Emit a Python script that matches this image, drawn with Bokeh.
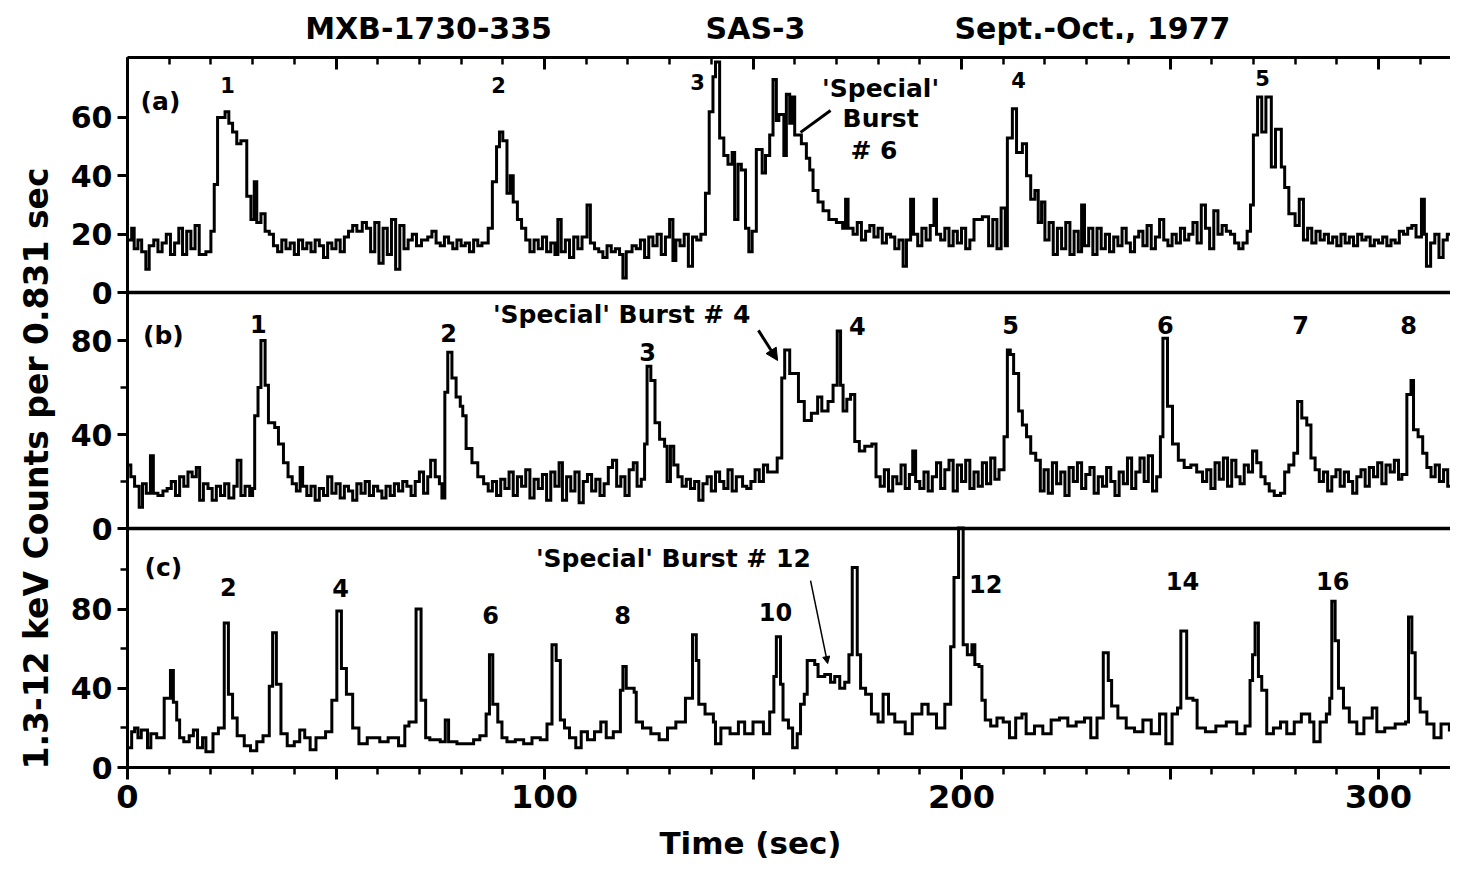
import math
from bokeh.plotting import figure
from bokeh.models import (Range1d, LinearAxis, FixedTicker, Span, Label, Arrow,
                          NormalHead, CustomJSTickFormatter)
from bokeh.core.properties import value
from bokeh.embed import file_html
from bokeh.resources import INLINE

# ---------------- data ----------------
# panel (a): step start times (s) and counts per 0.831 s
a_time = [0, 1, 1.6, 2.5, 3.4, 4.4, 5.2, 6.3, 7.3, 8.3,
          9.3, 10.3, 11.3, 12.3, 13.2, 14.2, 15.2, 16.2, 17.2, 18.8,
          20, 20.8, 21.6, 23.4, 24.3, 25.2, 26.2, 27.2, 28.6, 29.6,
          30.4, 31, 32, 33, 34, 35, 36, 37, 38, 39,
          40, 41, 42, 43, 44, 45, 46, 47, 48, 49,
          50, 51, 52, 53, 54, 55, 56.3, 57.3, 58.3, 59.3,
          60.3, 61.3, 62.3, 63.3, 64.3, 65.3, 66.3, 67.3, 68.3, 69.3,
          70.5, 72, 73, 74, 75, 76, 77, 78, 79, 80,
          81, 82, 83, 84, 85, 86.5, 87.5, 88.5, 89.2, 90,
          91, 91.8, 92.5, 93.5, 94.5, 95.5, 96.5, 97.5, 98.5, 99.5,
          100.5, 101.5, 102.5, 103.2, 104, 105, 106, 107, 108, 109,
          110.2, 111, 112, 113, 114, 115, 116, 117, 118, 118.8,
          119.6, 121, 122, 123, 124, 125, 126, 127, 128, 129,
          130, 130.8, 131.5, 132.5, 133.5, 134.5, 135.5, 136.5, 137.5, 138.6,
          139.5, 140.4, 141, 142, 143, 144, 145, 145.6, 146.4, 147.2,
          148.2, 149, 149.8, 150.8, 152.2, 153, 154, 154.8, 155.6, 156.2,
          157.4, 158, 158.8, 159.4, 160, 161.6, 162.8, 163.6, 164.4, 165.6,
          166.8, 168.2, 170, 171.5, 172.2, 172.8, 174, 175, 176, 177,
          178, 179, 180, 181, 182, 183, 184, 185, 186, 186.8,
          187.8, 188.5, 189.5, 190.5, 191.5, 192.5, 193.4, 194, 195, 196,
          197, 198, 199, 200, 201, 202, 203, 205, 206.5, 207.5,
          208.5, 209.5, 210.5, 211, 212.2, 213.2, 214.6, 215.6, 216.6, 217.6,
          218.4, 219.2, 220, 221, 222, 223, 224, 225, 226, 227,
          228, 228.8, 229.5, 230.5, 231.5, 232.5, 233.5, 234.5, 235.5, 236.5,
          237.5, 238.5, 239.5, 240.5, 241.5, 242.5, 243.5, 244.5, 245.5, 246.5,
          247.5, 248.5, 249.5, 250.5, 251.5, 252.5, 253.5, 254.5, 255.5, 256.5,
          257.5, 258.5, 259.5, 260.5, 261.5, 262.5, 263.5, 264.5, 265.5, 266.5,
          267.5, 268.5, 269.3, 270, 271, 272, 273, 274.3, 275.3, 276.7,
          277.5, 278.5, 280, 281, 282, 283, 284, 285, 286, 287,
          288, 289, 290, 291, 292, 293, 294, 295, 296, 297,
          298, 299, 300, 301, 302, 303, 304, 305, 306, 307,
          308, 309, 310.3, 311, 311.5, 312.5, 313.5, 314.5, 315.5, 316.5,
          317.5, 319]
a_counts = [18, 22, 15, 18, 14, 8, 16, 18, 14, 17,
            20, 13, 17, 22, 13, 21, 15, 23, 13, 14,
            21, 37, 60, 62, 58, 55, 51, 52, 33, 25,
            38, 24, 27, 21, 20, 16, 14, 18, 15, 17,
            13, 18, 15, 17, 14, 18, 16, 12, 17, 15,
            18, 14, 19, 21, 23, 21, 24, 22, 14, 24,
            10, 22, 13, 25, 8, 23, 15, 18, 20, 16,
            18, 19, 21, 17, 16, 19, 17, 15, 18, 16,
            17, 14, 18, 16, 17, 22, 38, 50, 55, 52,
            34, 40, 31, 25, 22, 18, 14, 18, 15, 19,
            14, 17, 13, 25, 14, 18, 12, 19, 15, 19,
            30, 17, 15, 14, 12, 16, 14, 15, 13, 5,
            14, 16, 15, 18, 12, 19, 16, 20, 13, 19,
            25, 11, 18, 16, 20, 9, 19, 18, 20, 34,
            62, 74, 79, 53, 47, 44, 48, 25, 44, 42,
            22, 14, 21, 49, 41, 47, 54, 73, 59, 61,
            47, 68, 58, 67, 54, 51, 46, 42, 35, 31,
            28, 25, 24, 22, 32, 22, 20, 24, 18, 21,
            23, 19, 22, 17, 20, 19, 15, 18, 9, 18,
            32, 20, 16, 22, 18, 23, 32, 20, 18, 22,
            16, 21, 17, 22, 15, 18, 25, 26, 16, 25,
            15, 29, 16, 53, 63, 48, 51, 40, 32, 35,
            24, 31, 18, 24, 13, 22, 15, 24, 13, 21,
            14, 30, 16, 22, 13, 22, 15, 20, 14, 19,
            16, 22, 17, 14, 19, 21, 16, 23, 15, 19,
            25, 18, 16, 20, 17, 22, 18, 20, 24, 17,
            30, 22, 15, 28, 20, 23, 21, 20, 17, 15,
            17, 21, 30, 54, 67, 55, 67, 43, 56, 43,
            36, 27, 23, 32, 18, 22, 17, 21, 18, 20,
            17, 19, 16, 20, 17, 19, 16, 20, 18, 19,
            16, 18, 17, 19, 16, 18, 17, 21, 20, 22,
            23, 19, 32, 20, 9, 17, 20, 12, 18, 20,
            22, 22]

# panel (b)
b_time = [0, 0.8, 1.7, 2.8, 3.6, 4.5, 5.5, 6.2, 7.3, 8.5,
          9.5, 10.5, 11.5, 12.5, 13.5, 14.5, 15.5, 16.5, 17.3, 18.2,
          19.3, 20.3, 21.3, 22.3, 23.3, 24.3, 25.5, 26.3, 27.2, 28.2,
          29.3, 30, 30.5, 31.3, 32, 33, 33.8, 35.3, 36.2, 37.4,
          38.5, 39.5, 40.5, 41.4, 42, 43, 44, 45, 46, 47,
          48, 49, 50, 51, 52, 53, 54, 55, 56, 57,
          58, 59, 60, 61, 62, 63, 64, 65, 66, 67,
          68, 69, 70, 71, 72, 72.7, 73.8, 74.8, 75.4, 76.1,
          76.8, 77.8, 78.8, 79.8, 80.4, 81.2, 82.6, 84, 85.4, 86.5,
          87.5, 88.5, 89.5, 90.5, 91.5, 92.5, 93.5, 94.5, 95.5, 96.5,
          97.5, 98.5, 99.5, 100.5, 101.5, 102.5, 103.5, 104.3, 105.3, 106.3,
          107.3, 108.3, 109.3, 110.3, 111.3, 112.3, 113.3, 114.3, 115.3, 116.3,
          117.3, 118.3, 119.3, 120.3, 121.3, 122.2, 123.2, 124, 124.6, 125.5,
          126.5, 127.6, 128.8, 129.4, 130.2, 131, 132, 133, 134, 135,
          136, 137, 138, 139, 140, 141, 142, 143, 144, 145,
          146, 147.5, 148.5, 149.5, 150.5, 151.5, 152.5, 153.5, 155.8, 156.9,
          157.6, 158.8, 160.9, 162.3, 164, 165.5, 166.5, 168, 169.2, 170.2,
          171, 171.6, 172.5, 173.4, 174.4, 175.5, 176.8, 178.5, 179.5, 180.5,
          181.5, 182.5, 183.5, 184.5, 185.5, 186.5, 187.5, 188.3, 189, 190,
          191, 192, 193, 194, 195, 196, 197, 198, 199, 200,
          201, 202, 203, 204, 205, 206, 207, 208, 209, 210.2,
          211, 211.7, 212.5, 213.7, 214.6, 215.6, 216.6, 217.8, 218.9, 219.8,
          220.8, 221.8, 222.8, 223.8, 224.8, 225.8, 226.8, 227.8, 228.8, 229.8,
          230.8, 231.8, 232.8, 233.8, 234.8, 235.8, 236.8, 237.8, 238.8, 239.8,
          240.8, 241.8, 242.8, 243.8, 244.8, 245.8, 246.8, 247.7, 248.3, 249.4,
          250.6, 252, 253.4, 255, 256.4, 257.8, 258.8, 259.8, 260.8, 261.8,
          262.8, 263.8, 264.8, 265.8, 266.8, 267.8, 268.8, 269.8, 270.8, 271.8,
          272.8, 273.8, 275, 276.5, 277.5, 278.5, 279.7, 280.6, 281.6, 282.8,
          283.8, 284.8, 285.8, 286.8, 287.8, 288.8, 289.8, 290.8, 291.8, 292.8,
          293.8, 294.8, 295.8, 296.8, 297.8, 298.8, 299.8, 300.8, 301.8, 302.8,
          303.8, 304.8, 305.6, 306.8, 307.8, 308.4, 309.5, 310.6, 311.6, 312.6,
          313.6, 314.6, 315.6, 316.6, 317.6, 319]
b_counts = [27, 22, 18, 9, 19, 15, 31, 15, 14, 16,
            17, 20, 14, 22, 18, 24, 22, 26, 12, 19,
            17, 12, 18, 14, 19, 13, 18, 29, 14, 18,
            14, 17, 48, 60, 80, 61, 45, 43, 36, 28,
            22, 19, 16, 26, 18, 14, 18, 12, 17, 14,
            22, 15, 19, 13, 18, 16, 12, 19, 15, 20,
            14, 18, 16, 13, 18, 14, 19, 16, 20, 18,
            14, 20, 24, 15, 22, 29, 22, 19, 13, 58,
            75, 64, 56, 52, 48, 34, 28, 22, 19, 16,
            20, 14, 21, 17, 24, 14, 22, 18, 25, 13,
            21, 17, 23, 12, 24, 18, 28, 12, 22, 16,
            24, 11, 20, 23, 16, 21, 14, 19, 26, 29,
            18, 22, 14, 25, 28, 18, 21, 36, 69, 63,
            45, 38, 35, 20, 35, 27, 22, 18, 21, 17,
            20, 12, 19, 22, 16, 24, 20, 17, 25, 16,
            22, 18, 17, 20, 25, 20, 27, 24, 30, 64,
            76, 66, 54, 46, 49, 56, 50, 54, 61, 84,
            61, 50, 55, 57, 37, 33, 35, 36, 22, 18,
            25, 16, 22, 19, 27, 17, 23, 33, 20, 17,
            24, 16, 22, 28, 17, 25, 29, 16, 27, 20,
            29, 17, 24, 18, 28, 19, 30, 21, 25, 39,
            76, 74, 66, 50, 44, 39, 32, 29, 16, 25,
            15, 28, 19, 24, 14, 26, 20, 28, 17, 23,
            26, 15, 22, 18, 26, 20, 14, 24, 19, 30,
            17, 24, 30, 20, 31, 16, 22, 39, 81, 52,
            36, 29, 26, 27, 24, 20, 25, 17, 28, 21,
            30, 18, 29, 22, 19, 27, 24, 33, 28, 22,
            19, 16, 14, 15, 24, 27, 32, 54, 47, 44,
            30, 25, 20, 24, 16, 22, 25, 18, 24, 20,
            15, 22, 25, 18, 26, 22, 28, 19, 27, 24,
            29, 21, 23, 57, 63, 42, 39, 32, 26, 22,
            27, 20, 25, 18, 22, 22]

# panel (c)
c_time = [0, 1, 1.7, 2.5, 3.3, 4.8, 5.6, 7, 8.8, 10.3,
          11.0, 11.8, 12.5, 13.5, 14.8, 15.8, 16.8, 18, 18.8, 20.5,
          21.8, 23.2, 24.2, 25.2, 26.3, 28, 29.5, 31, 32.5, 34,
          34.8, 35.7, 36.8, 38.3, 40, 41.3, 42.5, 43.8, 45.2, 47.5,
          49, 50.2, 51.3, 52.5, 54, 55.5, 57.5, 60.5, 62.5, 65,
          66.5, 67.5, 69.2, 70.4, 71.5, 72.5, 75, 76.2, 77, 79,
          83, 84.5, 86, 86.8, 87.6, 88.8, 89.8, 91, 93, 95,
          97, 99, 100.6, 101.8, 102.8, 103.8, 104.8, 106, 107.5, 108.8,
          110.3, 112, 113.5, 114.8, 116.5, 118.2, 118.8, 119.6, 121.5, 122,
          123.5, 125.5, 127.5, 129.5, 131.5, 133.8, 135.5, 136.4, 137, 138.5,
          140.5, 141, 142.3, 144.5, 146.5, 148, 150, 152.5, 154, 155,
          155.6, 156.6, 157.2, 158.5, 159.5, 160.6, 161.4, 162.3, 163, 164.8,
          165.6, 167.2, 168.6, 169.6, 170.8, 172, 173, 173.8, 175, 175.8,
          177, 178.4, 180, 181.2, 182.5, 184, 186.5, 188.2, 190.5, 192,
          194, 196, 197.4, 198.2, 199.3, 200.4, 201.4, 202.5, 203.2, 204.2,
          204.9, 205.7, 207, 208.5, 210, 211.5, 213, 214.5, 215.5, 217.5,
          219.5, 221.5, 223.5, 225.5, 227.5, 229.5, 231, 232.5, 234, 235.2,
          236, 237.5, 239.5, 241.5, 243.5, 245.5, 247.5, 249, 250.5, 251.8,
          252.6, 254, 255.5, 256.5, 258.5, 261, 263.5, 266, 268, 269.2,
          269.8, 270.4, 271.2, 272, 273.2, 274.8, 276.5, 278, 279.8, 281.5,
          283.5, 284.5, 286, 287.5, 288.3, 288.8, 289.6, 290.4, 291.6, 293,
          294.8, 296.5, 298.5, 299.6, 301.5, 304, 306.5, 307.2, 308, 308.8,
          310, 311.6, 313.3, 315, 317, 319]
c_counts = [10, 18, 20, 15, 19, 10, 17, 15, 35, 49,
            33, 24, 15, 13, 16, 19, 10, 15, 8, 17,
            20, 73, 37, 25, 16, 11, 8.5, 13, 16, 41,
            68, 42, 17, 11, 13, 19, 15, 9, 15, 18,
            34, 79, 50, 37, 20, 12, 15, 13, 15, 11,
            21, 23, 80, 34, 15, 14, 13, 24, 13, 12,
            14, 16, 27, 57, 32, 23, 15, 13, 14, 12,
            15, 14, 22, 62, 54, 24, 20, 15, 10, 18,
            14, 18, 23, 15, 18, 39, 51, 40, 38, 23,
            20, 17, 14, 20, 23, 35, 67, 54, 32, 27,
            23, 12, 20, 17, 23, 17, 23, 17, 28, 46,
            66, 42, 24, 20, 10, 17, 32, 37, 54, 52,
            46, 47, 43, 46, 40, 43, 57, 101, 57, 40,
            37, 27, 23, 37, 27, 23, 17, 27, 32, 27,
            20, 32, 61, 96, 121, 62, 57, 62, 52, 51,
            34, 24, 21, 25, 23, 15, 25, 27, 17, 21,
            17, 24, 25, 21, 23, 25, 15, 25, 58, 44,
            31, 25, 20, 18, 24, 17, 27, 12, 27, 30,
            69, 35, 34, 20, 18, 21, 23, 17, 21, 44,
            57, 73, 46, 39, 17, 20, 23, 17, 23, 27,
            23, 13, 23, 27, 35, 84, 64, 40, 30, 23,
            17, 25, 30, 18, 20, 22, 23, 76, 58, 35,
            28, 22, 15, 22, 19, 19]

# burst numbers
a_burst_label = ["1", "2", "3", "4", "5"]
a_burst_time = [24.0, 89.0, 136.7, 213.7, 272.2]
a_burst_level = [71, 71.3, 72.3, 73, 73.4]
b_burst_label = ["1", "2", "3", "4", "5", "6", "7", "8"]
b_burst_time = [31.4, 77.0, 124.7, 175.0, 211.8, 248.9, 281.3, 307.2]
b_burst_level = [87.2, 83, 74.9, 86, 86.8, 86.8, 86.8, 86.8]
c_burst_label = ["2", "4", "6", "8", "10", "12", "14", "16"]
c_burst_time = [24.2, 51.1, 87.1, 118.7, 155.4, 205.8, 253.0, 289.0]
c_burst_level = [91.4, 90.9, 76.8, 76.8, 78.3, 92.9, 94.4, 94.4]

a_ticks = [0, 20, 40, 60]
b_ticks = [0, 40, 80]
b_minor = [20, 60]
c_ticks = [0, 40, 80]
c_minor = [20, 60, 100]
x_ticks = [0, 50, 100, 150, 200, 250, 300]
x_minor = list(range(0, 321, 10))

header_texts = ["MXB-1730-335", "SAS-3", "Sept.-Oct., 1977"]
header_times = [72.2, 150.6, 231.4]
y_title = "1.3-12 keV Counts per 0.831 sec"
x_title = "Time (sec)"

# ---------------- layout ----------------
FONT = "DejaVu Sans"
FRAME_H = 710
A0, AS = 475, 2.917   # panel (a): zero offset (px above frame bottom) and px per count
B0, BS = 239, 2.35
C0, CS = 0, 1.98
W, LEFT = 1450, 127
TOP, BOTTOM = 57, 97
XEND = (W - LEFT) / 4.17

p = figure(width=W, height=TOP + FRAME_H + BOTTOM, output_backend="svg",
           toolbar_location=None,
           x_range=Range1d(0, XEND), y_range=Range1d(0, FRAME_H),
           x_axis_location=None, y_axis_location=None,
           min_border_left=LEFT, min_border_right=0, min_border_top=TOP,
           min_border_bottom=BOTTOM)
p.outline_line_color = None
p.background_fill_color = "white"
p.border_fill_color = "white"
p.xgrid.visible = False
p.ygrid.visible = False
p.extra_y_ranges = {
    "a": Range1d(-A0 / AS, (FRAME_H - A0) / AS),
    "b": Range1d(-B0 / BS, (FRAME_H - B0) / BS),
    "c": Range1d(-C0 / CS, (FRAME_H - C0) / CS),
}

# left axis shared by the three panels
major_pos = [A0 + v * AS for v in a_ticks] + [B0 + v * BS for v in b_ticks] + [C0 + v * CS for v in c_ticks]
major_lab = [str(v) for v in a_ticks] + [str(v) for v in b_ticks] + [str(v) for v in c_ticks]
minor_pos = [B0 + v * BS for v in b_minor] + [C0 + v * CS for v in c_minor]
left = LinearAxis(
    ticker=FixedTicker(ticks=major_pos, minor_ticks=minor_pos),
    formatter=CustomJSTickFormatter(args=dict(T=major_pos, L=major_lab), code="""
        for (let i = 0; i < T.length; i++) { if (Math.abs(tick - T[i]) < 0.01) { return L[i]; } }
        return "";"""))
bottom = LinearAxis(
    ticker=FixedTicker(ticks=x_ticks, minor_ticks=x_minor),
    formatter=CustomJSTickFormatter(code="return (Math.abs(tick % 100) < 0.01) ? tick.toFixed(0) : '';"))
top = LinearAxis(
    ticker=FixedTicker(ticks=x_ticks, minor_ticks=x_minor),
    formatter=CustomJSTickFormatter(code="return '';"))

for ax in (left, bottom, top):
    ax.axis_line_width = 3
    ax.axis_line_color = "black"
    ax.major_tick_line_width = 3
    ax.minor_tick_line_width = 2.5
    ax.major_tick_line_color = "black"
    ax.minor_tick_line_color = "black"
    ax.major_label_text_font = FONT
    ax.major_label_text_font_style = "bold"
    ax.major_label_text_color = "black"
left.major_tick_out, left.major_tick_in = 10, 0
left.minor_tick_out, left.minor_tick_in = 7, 0
left.major_label_text_font_size = "30px"
left.major_label_standoff = 5
bottom.major_tick_out, bottom.major_tick_in = 12, 0
bottom.minor_tick_out, bottom.minor_tick_in = 7, 0
bottom.major_label_text_font_size = "32px"
bottom.major_label_standoff = 5
top.major_tick_out, top.major_tick_in = 0, 12
top.minor_tick_out, top.minor_tick_in = 0, 7
top.major_label_text_font_size = "1px"
top.major_label_standoff = 0
p.add_layout(left, "left")
p.add_layout(bottom, "below")
p.add_layout(top, "above")


def text_axis(ticks, labels, size, standoff, orientation="horizontal"):
    ax = LinearAxis(
        ticker=FixedTicker(ticks=ticks, minor_ticks=[]),
        formatter=CustomJSTickFormatter(args=dict(T=ticks, L=labels), code="""
            for (let i = 0; i < T.length; i++) { if (Math.abs(tick - T[i]) < 0.01) { return L[i]; } }
            return "";"""),
        axis_line_color=None, major_tick_line_color=None, minor_tick_line_color=None,
        major_tick_in=0, major_tick_out=0, minor_tick_in=0, minor_tick_out=0,
        major_label_standoff=standoff, major_label_orientation=orientation,
        major_label_text_font=FONT, major_label_text_font_style="bold",
        major_label_text_font_size=size, major_label_text_color="black")
    return ax


# header texts, axis titles (as outer axes so that they are drawn outside the frame)
p.add_layout(text_axis(header_times, header_texts, "30px", 12), "above")
p.add_layout(text_axis([299], [y_title], "33px", 12, "vertical"), "left")
p.add_layout(text_axis([149.4], [x_title], "31px", 14), "below")

# panel separators
for rn in ("a", "b"):
    p.add_layout(Span(location=0, dimension="width", y_range_name=rn,
                      line_color="black", line_width=3.5))

# light curves
for t, c, rn in ((a_time, a_counts, "a"), (b_time, b_counts, "b"), (c_time, c_counts, "c")):
    p.step(t, c, mode="after", y_range_name=rn, line_color="black", line_width=3,
           line_join="miter")

# burst numbers
for t, lv, lab, rn, fs in ((a_burst_time, a_burst_level, a_burst_label, "a", "21px"),
                           (b_burst_time, b_burst_level, b_burst_label, "b", "24px"),
                           (c_burst_time, c_burst_level, c_burst_label, "c", "24px")):
    p.text(x=t, y=lv, text=lab, y_range_name=rn, text_font=value(FONT),
           text_font_style="bold", text_font_size=fs, text_color="black",
           text_align="center", text_baseline="middle")


def add_label(x, y, text, rn="default", size="25px"):
    p.add_layout(Label(x=x, y=y, text=text, y_range_name=rn, text_font=FONT,
                       text_font_style="bold", text_font_size=size, text_color="black",
                       text_align="center", text_baseline="middle"))


# panel tags
add_label(7.9, 65.5, "(a)", "a")
add_label(8.6, 82.1, "(b)", "b")
add_label(8.6, 101, "(c)", "c")

# special burst annotations
add_label(180.6, 69.9, "'Special'", "a")
add_label(180.6, 59.6, "Burst", "a")
add_label(179.0, 48.7, "# 6", "a")
p.segment(x0=[168.6], y0=[62.4], x1=[161.4], y1=[54.9], y_range_name="a",
          line_color="black", line_width=3)
add_label(118.5, 91, "'Special' Burst # 4", "b")
p.add_layout(Arrow(end=NormalHead(size=12, fill_color="black", line_color="black"),
                   x_start=151.3, y_start=84.3, x_end=155.9, y_end=71.5,
                   y_range_name="b", line_color="black", line_width=3))
add_label(130.9, 105.6, "'Special' Burst # 12", "c")
p.add_layout(Arrow(end=NormalHead(size=7, fill_color="black", line_color="black"),
                   x_start=163.8, y_start=94.4, x_end=167.9, y_end=52.5,
                   y_range_name="c", line_color="black", line_width=1.5))

open("out.html", "w").write(file_html(p, INLINE))
